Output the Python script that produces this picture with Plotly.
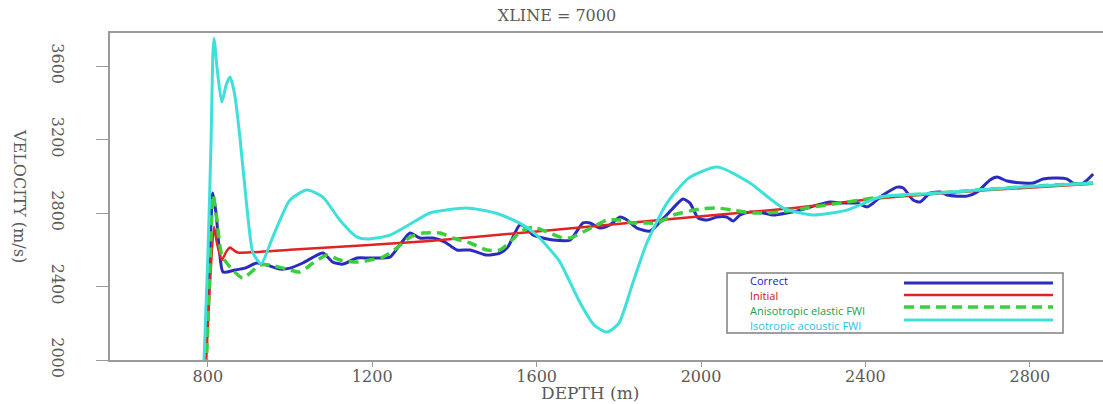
import plotly.graph_objects as go

# ---------------- data ----------------
correct_depth = [790, 803, 812, 820, 828, 837, 866, 890, 919, 944, 975, 1000, 1031, 1080, 1104, 1129,
                 1163, 1194, 1243, 1267, 1292, 1316, 1348, 1377, 1406, 1438, 1479, 1511, 1530, 1559,
                 1576, 1591, 1615, 1640, 1681, 1713, 1730, 1754, 1778, 1803, 1820, 1844, 1876, 1900,
                 1932, 1956, 1973, 1993, 2015, 2039, 2063, 2078, 2095, 2119, 2151, 2175, 2209, 2241,
                 2282, 2314, 2346, 2380, 2404, 2419, 2436, 2477, 2492, 2516, 2533, 2557, 2582, 2599,
                 2623, 2647, 2672, 2703, 2720, 2745, 2784, 2808, 2832, 2866, 2891, 2905, 2930, 2954]
correct_vel = [1900, 2450, 2909, 2800, 2600, 2479, 2490, 2500, 2528, 2517, 2495, 2500, 2528, 2582, 2533, 2522,
               2555, 2555, 2560, 2626, 2691, 2664, 2664, 2642, 2599, 2599, 2571, 2582, 2615, 2735,
               2718, 2680, 2664, 2653, 2653, 2746, 2746, 2718, 2735, 2778, 2762, 2718, 2702, 2751,
               2827, 2876, 2854, 2773, 2762, 2778, 2778, 2756, 2789, 2805, 2800, 2789, 2800, 2816,
               2843, 2860, 2854, 2854, 2833, 2854, 2887, 2941, 2936, 2871, 2860, 2909, 2914, 2898,
               2892, 2892, 2914, 2980, 2996, 2974, 2963, 2963, 2985, 2991, 2985, 2963, 2963, 3012]

initial_depth = [795, 806, 815, 822, 834, 845, 854, 863, 873, 1000, 1340, 1600, 1900, 2200, 2436, 2700, 2954]
initial_vel = [1950, 2450, 2724, 2640, 2544, 2590, 2612, 2598, 2585, 2600, 2648, 2700, 2762, 2822, 2880, 2925, 2960]

aniso_depth = [796, 805, 813, 820, 834, 854, 885, 927, 951, 992, 1024, 1056, 1090, 1121, 1163, 1194,
               1226, 1260, 1292, 1323, 1365, 1396, 1438, 1479, 1511, 1540, 1559, 1591, 1625, 1657,
               1681, 1713, 1747, 1771, 1803, 1834, 1868, 1893, 1932, 1998, 2039, 2078, 2127, 2192,
               2273, 2355, 2436, 2550, 2672, 2800, 2954]
aniso_vel = [1950, 2500, 2898, 2800, 2571, 2506, 2446, 2517, 2517, 2495, 2479, 2528, 2571, 2544, 2533, 2544,
             2560, 2610, 2669, 2691, 2691, 2664, 2637, 2599, 2599, 2653, 2697, 2724, 2697, 2669,
             2664, 2697, 2735, 2762, 2762, 2746, 2746, 2746, 2789, 2822, 2827, 2816, 2800, 2805,
             2833, 2860, 2887, 2905, 2925, 2945, 2963]

iso_depth = [790, 800, 808, 812, 815, 818, 822, 834, 845, 854, 865, 878, 895, 910, 930, 958, 1000, 1041,
             1080, 1121, 1163, 1187, 1243, 1309, 1340, 1430, 1500, 1559, 1600, 1640, 1657, 1706, 1740,
             1771, 1800, 1834, 1868, 1917, 1970, 2039, 2119, 2200, 2273, 2355, 2436, 2550, 2672, 2800, 2954]
iso_vel = [1950, 2560, 3200, 3650, 3752, 3700, 3600, 3404, 3500, 3540, 3450, 3214, 2833, 2582, 2525, 2669, 2871, 2925,
           2887, 2762, 2669, 2658, 2680, 2762, 2800, 2827, 2800, 2745, 2680, 2582, 2533, 2310, 2190,
           2152, 2200, 2419, 2637, 2854, 2990, 3050, 2963, 2827, 2789, 2816, 2887, 2905, 2925, 2945, 2963]

series_names = ["Correct", "Initial", "Anisotropic elastic FWI", "Isotropic acoustic FWI"]
line_colors = ["#2b2bbd", "#e02424", "#3ccf3c", "#40e0da"]
text_colors = ["#2020cc", "#d01010", "#20a050", "#30c0e0"]

x_ticks = [800, 1200, 1600, 2000, 2400, 2800]
y_ticks = [2000, 2400, 2800, 3200, 3600]

# ---------------- figure ----------------
fig = go.Figure()
fig.add_trace(go.Scatter(x=correct_depth, y=correct_vel, mode="lines", name=series_names[0],
                         line=dict(color=line_colors[0], width=3, shape="spline", smoothing=0.6)))
fig.add_trace(go.Scatter(x=initial_depth, y=initial_vel, mode="lines", name=series_names[1],
                         line=dict(color=line_colors[1], width=2.5, shape="spline", smoothing=0.6)))
fig.add_trace(go.Scatter(x=aniso_depth, y=aniso_vel, mode="lines", name=series_names[2],
                         line=dict(color=line_colors[2], width=3.5, dash="10px,6px", shape="spline", smoothing=0.6)))
fig.add_trace(go.Scatter(x=iso_depth, y=iso_vel, mode="lines", name=series_names[3],
                         line=dict(color=line_colors[3], width=3, shape="spline", smoothing=0.6)))

serif = "DejaVu Serif"
gray = "#5a5a5a"

fig.update_layout(
    width=1103, height=404,
    margin=dict(l=110, r=0, t=33, b=44, autoexpand=False),
    paper_bgcolor="white", plot_bgcolor="white",
    showlegend=False,
    title=dict(text="XLINE = 7000", x=(557) / 1103, xanchor="center", y=1 - 15 / 404, yanchor="middle",
               font=dict(family=serif, size=16, color=gray), automargin=False),
    xaxis=dict(range=[562, 2978], tickvals=x_ticks, ticktext=[str(v) for v in x_ticks],
               showgrid=False, zeroline=False, showline=True, linecolor="#9a9a9a", linewidth=1.5,
               mirror=True, ticks="outside", ticklen=5, tickcolor="#9a9a9a", automargin=False,
               ticklabelstandoff=-4,
               tickfont=dict(family=serif, size=16, color=gray)),
    yaxis=dict(range=[2000, 3780], tickvals=y_ticks, ticktext=[str(v) for v in y_ticks],
               showgrid=False, zeroline=False, showline=True, linecolor="#9a9a9a", linewidth=1.5,
               ticks="outside", ticklen=12, tickcolor="#9a9a9a", tickangle=90, automargin=False,
               ticklabelstandoff=25,
               tickfont=dict(family=serif, size=16, color=gray)),
)

# axis titles
fig.add_annotation(text="DEPTH (m)", xref="paper", yref="paper", x=(590 - 110) / 993, y=(360 - 393) / 327,
                   showarrow=False, xanchor="center", yanchor="middle",
                   font=dict(family=serif, size=17, color=gray))
fig.add_annotation(text="VELOCITY (m/s)", xref="paper", yref="paper", x=(20 - 110) / 993, y=(360 - 196) / 327,
                   showarrow=False, xanchor="center", yanchor="middle", textangle=90,
                   font=dict(family=serif, size=16, color=gray))

# custom legend (text left, line samples right)
fig.add_shape(type="rect", xref="paper", yref="paper",
              x0=(727 - 110) / 993, x1=(1063 - 110) / 993, y0=(360 - 333) / 327, y1=(360 - 273) / 327,
              line=dict(color="#808080", width=1.5), fillcolor="white", layer="above")
text_y = [280, 295, 310, 325]
line_y = [283, 295, 307, 320]
dashes = ["solid", "solid", "10px,6px", "solid"]
widths = [3, 2.5, 3.5, 3]
for i, nm in enumerate(series_names):
    fig.add_annotation(text=nm, xref="paper", yref="paper", x=(748 - 110) / 993, y=(360 - text_y[i]) / 327,
                       showarrow=False, xanchor="left", yanchor="middle",
                       font=dict(family="Open Sans", size=11, color=text_colors[i]))
    fig.add_shape(type="line", xref="paper", yref="paper",
                  x0=(904 - 110) / 993, x1=(1053 - 110) / 993,
                  y0=(360 - line_y[i]) / 327, y1=(360 - line_y[i]) / 327,
                  line=dict(color=line_colors[i], width=widths[i], dash=dashes[i]), layer="above")

fig.write_html("out.html", config={"displayModeBar": False},
               post_script="document.body.style.margin='0';document.body.style.overflow='hidden';")
